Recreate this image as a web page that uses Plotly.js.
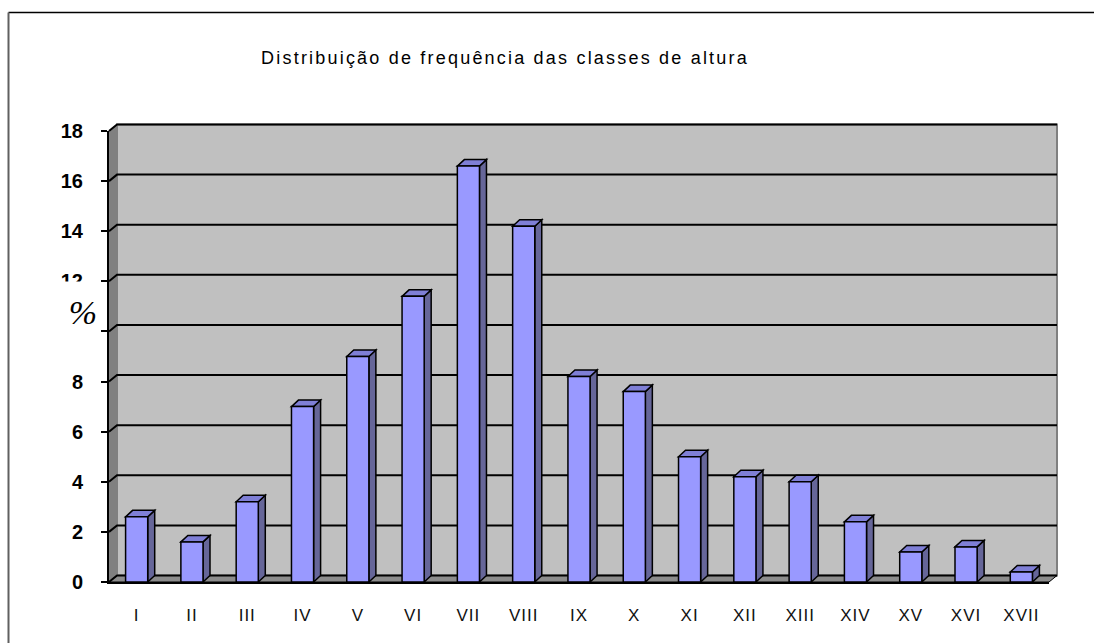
<!DOCTYPE html>
<html>
<head>
<meta charset="utf-8">
<script src="https://cdn.plot.ly/plotly-3.0.1.min.js"></script>
<style>
html,body{margin:0;padding:0;background:#fff;overflow:hidden;}
#chart{width:1094px;height:643px;}
#chart .gtitle{letter-spacing:2.2px;}
#chart .xtick text{letter-spacing:1px;}
</style>
</head>
<body>
<div id="chart"></div>
<script>
// ---- data ----
var categories = ['I','II','III','IV','V','VI','VII','VIII','IX','X','XI','XII','XIII','XIV','XV','XVI','XVII'];
var values = [2.6,1.6,3.2,7.0,9.0,11.4,16.6,14.2,8.2,7.6,5.0,4.2,4.0,2.4,1.2,1.4,0.4];
var yTicks = [0,2,4,6,8,10,12,14,16,18];
// the "10" label is hidden behind the % title in the reference
var yTickLabels = ['0','2','4','6','8','','12','14','16','18'];
var titleText = 'Distribuição de frequência das classes de altura';
var yTitleText = '%';

// ---- geometry ----
var W = 1094, H = 643;
var mL = 109, mR = 45, mT = 131, mB = 61;
var pw = W - mL - mR, ph = H - mT - mB;
var yMax = 18;
var nCat = categories.length;
var xIdx = categories.map(function(c, i){ return i; });
var pxPerCat = pw / nCat, pxPerUnit = ph / yMax;
var barW = 0.4;
// depth of 3D effect
var wallDx = 8 / pw, wallDy = 6.5 / ph;            // paper units
var barDx = 7 / pxPerCat, barDy = 6.5 / pxPerUnit; // data units

var shapes = [];
// left side wall
shapes.push({type:'path', xref:'paper', yref:'paper', layer:'below',
  path:'M0,0 L0,1 L'+wallDx+','+(1+wallDy)+' L'+wallDx+','+wallDy+' Z',
  fillcolor:'#808080', line:{width:0}});
// back wall
shapes.push({type:'rect', xref:'paper', yref:'paper', layer:'below',
  x0:wallDx, x1:1+wallDx, y0:wallDy, y1:1+wallDy,
  fillcolor:'#c0c0c0', line:{color:'#808080', width:2}});
// floor
shapes.push({type:'path', xref:'paper', yref:'paper', layer:'below',
  path:'M0,0 L1,0 L'+(1+wallDx)+','+wallDy+' L'+wallDx+','+wallDy+' Z',
  fillcolor:'#8c8c8c', line:{color:'#000', width:1}});
// gridlines on back wall (with slant on side wall)
yTicks.forEach(function(v){
  var yp = v / yMax;
  shapes.push({type:'path', xref:'paper', yref:'paper', layer:'below',
    path:'M0,'+yp+' L'+wallDx+','+(yp+wallDy)+' L'+(1+wallDx)+','+(yp+wallDy),
    line:{color:'#000', width:2}});
});
// outer chart frame (partly outside the picture)
var frameTop = (H - 12.5 - mB) / ph, frameLeft = (8.5 - mL) / pw;
shapes.push({type:'line', xref:'paper', yref:'paper', x0:frameLeft, x1:(W - mL)/pw, y0:frameTop, y1:frameTop,
  line:{color:'#000', width:1.5}});
shapes.push({type:'line', xref:'paper', yref:'paper', x0:frameLeft, x1:frameLeft, y0:frameTop, y1:-mB/ph,
  line:{color:'#606060', width:2}});
// bar side and top faces
xIdx.forEach(function(i){
  var v = values[i];
  var xl = i - barW/2, xr = i + barW/2;
  shapes.push({type:'path', xref:'x', yref:'y', layer:'below',
    path:'M'+xr+',0 L'+(xr+barDx)+','+barDy+' L'+(xr+barDx)+','+(v+barDy)+' L'+xr+','+v+' Z',
    fillcolor:'#666699', line:{color:'#000', width:1.5}});
  shapes.push({type:'path', xref:'x', yref:'y', layer:'below',
    path:'M'+xl+','+v+' L'+(xl+barDx)+','+(v+barDy)+' L'+(xr+barDx)+','+(v+barDy)+' L'+xr+','+v+' Z',
    fillcolor:'#7f7fd6', line:{color:'#000', width:1.5}});
});

var trace = {
  type:'bar', x:xIdx, y:values, width:barW,
  marker:{color:'#9999ff', line:{color:'#000', width:1.5}},
  hoverinfo:'skip', showlegend:false
};

var boundaries = [];
for (var b = 0; b <= nCat; b++) boundaries.push(b - 0.5);

var layout = {
  width:W, height:H,
  margin:{l:mL, r:mR, t:mT, b:mB, pad:0},
  paper_bgcolor:'#fff', plot_bgcolor:'rgba(0,0,0,0)',
  showlegend:false,
  title:{text:titleText, x:505/W, xanchor:'center', y:1-58/H, yanchor:'middle',
    font:{family:'Liberation Sans, Arial, sans-serif', size:18, color:'#000'}},
  xaxis:{type:'linear', range:[-0.5, nCat-0.5], tickvals:xIdx, ticktext:categories,
    ticks:'', showgrid:false, zeroline:false, showline:true, linecolor:'#000', linewidth:2,
    ticklabelstandoff:17, fixedrange:true,
    tickfont:{family:'Liberation Sans, Arial, sans-serif', size:17, color:'#111'}},
  xaxis2:{type:'linear', overlaying:'x', anchor:'y', side:'bottom', range:[-0.5, nCat-0.5],
    tickvals:boundaries, ticks:'outside', ticklen:5, tickwidth:1.5, tickcolor:'#000',
    showticklabels:false, showgrid:false, zeroline:false, showline:false},
  yaxis:{range:[0, yMax], tickvals:yTicks, ticktext:yTickLabels,
    ticks:'outside', ticklen:6, tickwidth:2, tickcolor:'#000',
    showgrid:false, zeroline:false, showline:true, linecolor:'#000', linewidth:2,
    ticklabelstandoff:14, fixedrange:true,
    tickfont:{family:'Liberation Sans, Arial, sans-serif', size:20, color:'#000', weight:'bold'}},
  shapes:shapes,
  annotations:[{
    text:yTitleText, xref:'paper', yref:'paper',
    x:(73 - mL)/pw, y:(H - mB - 311.5)/ph, xanchor:'center', yanchor:'middle',
    showarrow:false, bgcolor:'#fff', width:48, height:60, align:'right', borderpad:0,
    font:{family:'Liberation Serif, Times New Roman, serif', size:34, style:'italic', color:'#000'}
  }]
};

Plotly.newPlot('chart', [trace], layout, {staticPlot:true, displayModeBar:false});
</script>
</body>
</html>
